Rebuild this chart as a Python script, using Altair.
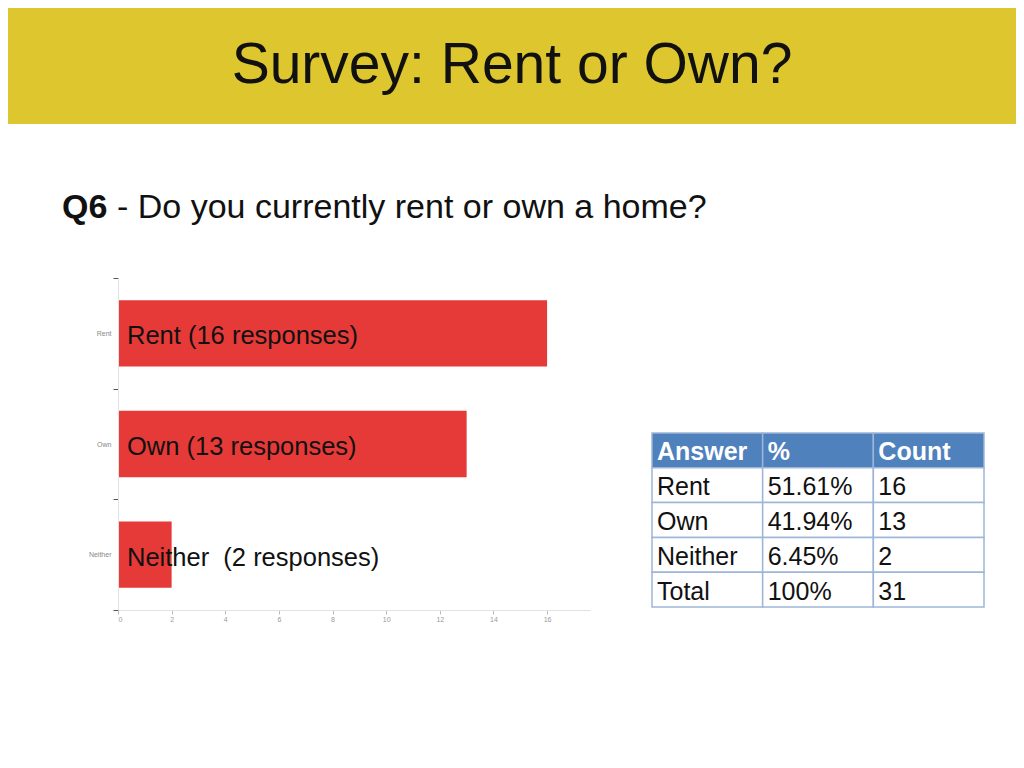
import altair as alt
import pandas as pd

# slide texts
title = "Survey: Rent or Own?"
question_id = "Q6"
question = "- Do you currently rent or own a home?"

# survey results
answers = ["Rent", "Own", "Neither"]
counts = [16, 13, 2]
bar_labels = ["Rent (16 responses)", "Own (13 responses)", "Neither\u00a0 (2 responses)"]
pct_labels = ["51.61%", "41.94%", "6.45%"]
table_header = ["Answer", "%", "Count"]
total_row = ["Total", "100%", "31"]
x_ticks = [0, 2, 4, 6, 8, 10, 12, 14, 16]

W, H = 1008, 752
FONT = "Liberation Sans"

one = pd.DataFrame({"t": [title]})

# white slide + yellow header band + title
slide = alt.Chart(one).mark_rect(color="white").encode(
    x=alt.value(0), x2=alt.value(W), y=alt.value(0), y2=alt.value(H)
)
band = alt.Chart(one).mark_rect(color="#DEC72E").encode(
    x=alt.value(0), x2=alt.value(W), y=alt.value(0), y2=alt.value(116)
)
title_txt = alt.Chart(one).mark_text(
    fontSize=57, font=FONT, color="#111", align="center", baseline="alphabetic"
).encode(text="t:N", x=alt.value(504), y=alt.value(75))

q_id = alt.Chart(pd.DataFrame({"t": [question_id]})).mark_text(
    fontSize=34, font=FONT, fontWeight="bold", color="#111", align="left", baseline="alphabetic"
).encode(text="t:N", x=alt.value(54), y=alt.value(210))
q_txt = alt.Chart(pd.DataFrame({"t": [question]})).mark_text(
    fontSize=34, font=FONT, color="#111", align="left", baseline="alphabetic"
).encode(text="t:N", x=alt.value(109), y=alt.value(210))

# bar chart
bars_df = pd.DataFrame({"answer": answers, "count": counts, "label": bar_labels, "zero": 0})
xs = alt.Scale(domain=[0, 17.6], range=[110, 582], nice=False)
ys = alt.Scale(domain=answers, range=[270, 602], paddingInner=0, paddingOuter=0)

bars = alt.Chart(bars_df).mark_bar(color="#E53A37", height=alt.RelativeBandSize(0.6)).encode(
    x=alt.X("count:Q", scale=xs, axis=alt.Axis(
        orient="bottom", offset=602 - H, values=x_ticks, format="d", title=None, grid=False,
        domain=True, ticks=True, labels=True, zindex=1,
        labelFontSize=7, labelColor="#999", labelFont=FONT, tickSize=4, tickColor="#bbb",
        domainColor="#e2e2e2", labelPadding=1)),
    y=alt.Y("answer:N", scale=ys, sort=answers, axis=alt.Axis(
        orient="left", offset=-110, title=None, tickBand="extent",
        domain=True, ticks=True, labels=True, zindex=1,
        labelFontSize=7, labelColor="#888", labelFont=FONT, tickSize=5, tickColor="#555",
        domainColor="#e2e2e2", labelPadding=2)),
)
bar_text = alt.Chart(bars_df).mark_text(
    fontSize=25.5, font=FONT, color="#111", align="left", baseline="middle", dx=9, dy=3
).encode(
    x=alt.X("zero:Q"),
    y=alt.Y("answer:N", sort=answers),
    text="label:N",
)
bar_layer = alt.layer(bars, bar_text)

# table
rows = [table_header] + [[a, p, str(c)] for a, p, c in zip(answers, pct_labels, counts)] + [total_row]
cells = pd.DataFrame(
    [{"row": r, "col": c, "text": v} for r, line in enumerate(rows) for c, v in enumerate(line)]
)
tx = alt.Scale(domain=[0, 1, 2], range=[644, 976], paddingInner=0, paddingOuter=0)
ty = alt.Scale(domain=[0, 1, 2, 3, 4], range=[425, 599], paddingInner=0, paddingOuter=0)

cell_rect = alt.Chart(cells).mark_rect(stroke="#9DB5D8", strokeWidth=1.5).encode(
    x=alt.X("col:O", scale=tx, axis=None),
    y=alt.Y("row:O", scale=ty, axis=None),
    color=alt.condition("datum.row == 0", alt.value("#4F81BD"), alt.value("white")),
)
head_text = alt.Chart(cells).transform_filter("datum.row == 0").mark_text(
    fontSize=25, font=FONT, fontWeight="bold", color="white", align="left", baseline="middle",
    dx=5, dy=2
).encode(
    x=alt.X("col:O", scale=tx, axis=None, bandPosition=0),
    y=alt.Y("row:O", scale=ty, axis=None),
    text="text:N",
)
body_text = alt.Chart(cells).transform_filter("datum.row > 0").mark_text(
    fontSize=25, font=FONT, color="#111", align="left", baseline="middle", dx=5, dy=2
).encode(
    x=alt.X("col:O", scale=tx, axis=None, bandPosition=0),
    y=alt.Y("row:O", scale=ty, axis=None),
    text="text:N",
)
table_layer = alt.layer(cell_rect, head_text, body_text)

chart = alt.layer(slide, band, title_txt, q_id, q_txt, bar_layer, table_layer).resolve_scale(
    x="independent", y="independent"
).properties(
    width=W, height=H, autosize=alt.AutoSizeParams(type="none"), padding=0
).configure_view(strokeWidth=0, stroke="transparent").configure_axis(
    domain=False, ticks=False, labels=False, grid=False
).configure(background="white")

chart.save("out.html", embed_options={"renderer": "svg", "actions": False})
